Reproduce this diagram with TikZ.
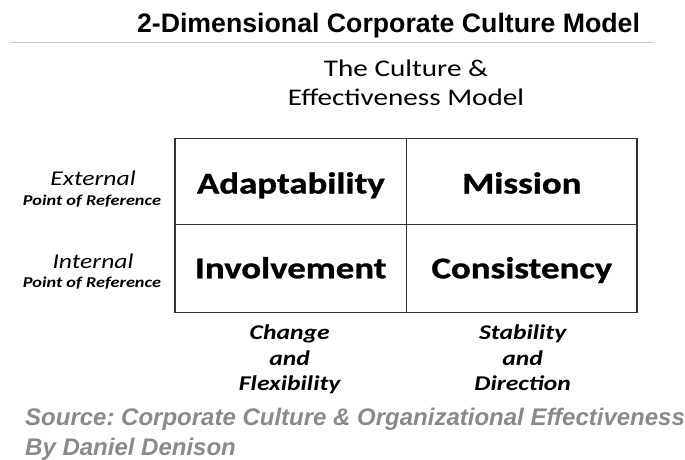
\documentclass[tikz,border=0pt]{standalone}
\usepackage{fontspec}
\setmainfont{Liberation Sans}
\newfontfamily\calfont{Carlito}[FakeStretch=1.22]
\newfontfamily\calheavy{Carlito}[FakeStretch=1.22, FakeBold=1]
\definecolor{rulegray}{HTML}{C8C8C8}
\definecolor{gridline}{HTML}{333333}
\definecolor{srcgray}{HTML}{8A8A8A}
\frenchspacing
\tikzset{
  headline/.style={anchor=base, inner sep=0pt, font=\bfseries\fontsize{26.7}{30}\selectfont},
  modeltitle/.style={anchor=base, inner sep=0pt, font=\calfont\fontsize{23.9}{28}\selectfont},
  cellword/.style={anchor=base, inner sep=0pt, font=\calheavy\bfseries\fontsize{30.2}{36}\selectfont},
  sidemain/.style={anchor=base, inner sep=0pt, font=\calfont\itshape\fontsize{21}{25}\selectfont},
  sidesub/.style={anchor=base, inner sep=0pt, font=\calfont\bfseries\itshape\fontsize{15}{18}\selectfont},
  axisword/.style={anchor=base, inner sep=0pt, font=\calfont\bfseries\itshape\fontsize{21}{25}\selectfont},
  sourceline/.style={anchor=base west, inner sep=0pt, text=srcgray, font=\bfseries\itshape\fontsize{24}{28}\selectfont},
  gridbox/.style={draw=gridline, line width=1.5pt},
}
\begin{document}
\begin{tikzpicture}[x=1pt, y=-1pt]
\useasboundingbox (0,0) rectangle (685,460);

% heading and rule
\node[headline] (head) at (388.5,33) {2-Dimensional Corporate Culture Model};
\coordinate (ruleL) at (11,43);
\coordinate (ruleR) at (653,43);
\draw[rulegray, line width=1pt] (ruleL) -- (ruleR);

% model title
\node[modeltitle] (mt1) at (406,76) {The Culture \&};
\node[modeltitle] (mt2) at (406,105) {Effectiveness Model};

% the 2x2 grid
\coordinate (tl) at (175,138.3);
\coordinate (br) at (637,312.7);
\coordinate (midT) at (406.5,138.3);
\coordinate (midB) at (406.5,312.7);
\coordinate (midL) at (175,224.3);
\coordinate (midR) at (637,224.3);
\draw[gridbox] (tl) rectangle (br);
\draw[gridbox] (midT) -- (midB);
\draw[gridbox] (midL) -- (midR);

\node[cellword] (adapt) at (290.8,193.5) {Adaptability};
\node[cellword] (mission) at (521.8,193.5) {Mission};
\node[cellword] (involve) at (290.8,278.3) {Involvement};
\node[cellword] (consist) at (521.8,278.3) {Consistency};

% row labels
\node[sidemain] (ext) at (93,185.7) {External};
\node[sidesub] (extsub) at (92,205) {Point of Reference};
\node[sidemain] (int) at (93,268.3) {Internal};
\node[sidesub] (intsub) at (92,287.7) {Point of Reference};

% column labels
\node[axisword] (chg1) at (289.7,339.5) {Change};
\node[axisword] (chg2) at (289.7,365) {and};
\node[axisword] (chg3) at (289.7,390) {Flexibility};
\node[axisword] (stb1) at (522.7,339.5) {Stability};
\node[axisword] (stb2) at (522.7,365) {and};
\node[axisword] (stb3) at (522.7,390) {Direction};

% source
\node[sourceline] (src1) at (25,425) {Source: Corporate Culture \& Organizational Effectiveness};
\node[sourceline] (src2) at (25,455) {By Daniel Denison};
\end{tikzpicture}
\end{document}
